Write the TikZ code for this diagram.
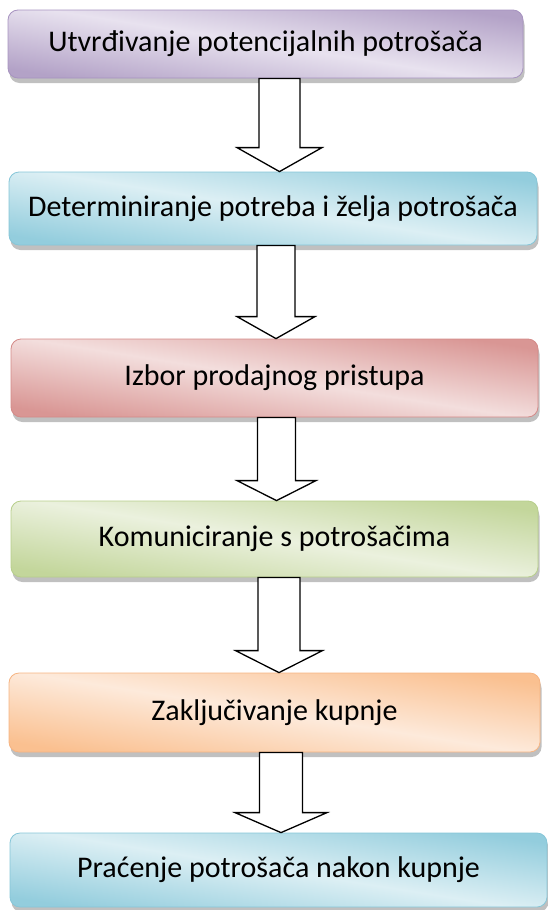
\documentclass[tikz,border=0pt]{standalone}
\usepackage{fontspec}
\setmainfont{Carlito}
\usetikzlibrary{calc,shadows}

\definecolor{purpledark}{HTML}{B3A2C7}
\definecolor{purplelight}{HTML}{E8E2EF}
\definecolor{purpleedge}{HTML}{A793C0}
\definecolor{aquadark}{HTML}{93CDDD}
\definecolor{aqualight}{HTML}{DCEFF4}
\definecolor{aquaedge}{HTML}{86C6D8}
\definecolor{reddark}{HTML}{D99694}
\definecolor{redlight}{HTML}{F3DEDD}
\definecolor{rededge}{HTML}{D48A88}
\definecolor{greendark}{HTML}{C3D69B}
\definecolor{greenlight}{HTML}{EBF1DE}
\definecolor{greenedge}{HTML}{B7CE8B}
\definecolor{orangedark}{HTML}{FAC090}
\definecolor{orangelight}{HTML}{FDEADB}
\definecolor{orangeedge}{HTML}{F6B482}

\tikzset{
  stagebox/.style n args={3}{rectangle, rounded corners=10pt, inner sep=0pt,
    draw=#3, line width=0.8pt,
    top color=#1, bottom color=#1, middle color=#2, shading angle=-9,
    drop shadow={shadow xshift=1.5pt, shadow yshift=-5pt, opacity=0.45, fill=black!55},
    font=\fontsize{30}{35}\selectfont},
  blockarrow/.style={draw=black, fill=white, line width=1.3pt, line join=miter}
}

\begin{document}
\begin{tikzpicture}[x=1pt, y=1pt]
  \useasboundingbox (0,0) rectangle (548,-910);

  \node (b1) at (265.5,-44) [stagebox={purpledark}{purplelight}{purpleedge}, minimum width=515, minimum height=68] {Utvrđivanje potencijalnih potrošača};
  \node (b2) at (273,-208.5) [stagebox={aquadark}{aqualight}{aquaedge}, minimum width=528, minimum height=73] {Determiniranje potreba i želja potrošača};
  \node (b3) at (274.5,-378) [stagebox={reddark}{redlight}{rededge}, minimum width=527, minimum height=78] {Izbor prodajnog pristupa};
  \node (b4) at (274.5,-539) [stagebox={greendark}{greenlight}{greenedge}, minimum width=527, minimum height=76] {Komuniciranje s potrošačima};
  \node (b5) at (274.5,-712.5) [stagebox={orangedark}{orangelight}{orangeedge}, minimum width=531, minimum height=79] {Zaključivanje kupnje};
  \node (b6) at (278.5,-870) [stagebox={aquadark}{aqualight}{aquaedge}, minimum width=537, minimum height=74] {Praćenje potrošača nakon kupnje};

  \foreach \src/\dst/\ax/\sw/\hw/\hl in {b1/b2/279.5/20.5/42.5/24, b2/b3/276/19/39/22,
      b3/b4/276.5/19/39.5/20, b4/b5/279/21/43.5/22, b5/b6/281/21.5/46/20}
    \draw[blockarrow] let \p1=(\src.south), \p2=(\dst.north) in
      ({(\ax-\sw)*1pt},\y1) -- ({(\ax-\sw)*1pt},{\y2+\hl*1pt})
      -- ({(\ax-\hw)*1pt},{\y2+\hl*1pt}) -- ({\ax*1pt},\y2)
      -- ({(\ax+\hw)*1pt},{\y2+\hl*1pt}) -- ({(\ax+\sw)*1pt},{\y2+\hl*1pt})
      -- ({(\ax+\sw)*1pt},\y1) -- cycle;
\end{tikzpicture}
\end{document}
